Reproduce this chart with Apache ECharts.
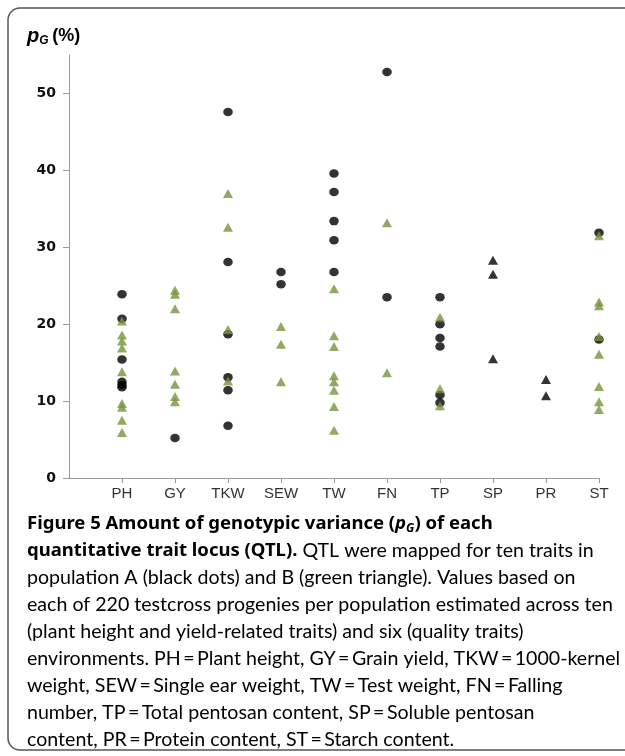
<!DOCTYPE html>
<html>
<head>
<meta charset="utf-8">
<script src="https://cdn.jsdelivr.net/npm/echarts@6/dist/echarts.min.js"></script>
<style>
  html, body { margin: 0; padding: 0; background: #ffffff; }
  #chart { width: 625px; height: 756px; }
</style>
</head>
<body>
<div id="chart"></div>
<script>
// Traits along the x axis
const categories = ['PH', 'GY', 'TKW', 'SEW', 'TW', 'FN', 'TP', 'SP', 'PR', 'ST'];

// Population A QTL (black dots), pG in %
const popA = [
  ['PH', 23.9], ['PH', 20.7], ['PH', 15.4], ['PH', 12.5], ['PH', 12.1], ['PH', 11.8],
  ['GY', 5.2],
  ['TKW', 47.6], ['TKW', 28.1], ['TKW', 18.7], ['TKW', 13.1], ['TKW', 11.4], ['TKW', 6.8],
  ['SEW', 26.8], ['SEW', 25.2],
  ['TW', 39.6], ['TW', 37.2], ['TW', 33.4], ['TW', 30.9], ['TW', 26.8],
  ['FN', 52.8], ['FN', 23.5],
  ['TP', 23.5], ['TP', 20.0], ['TP', 18.2], ['TP', 17.1], ['TP', 10.8], ['TP', 9.8],
  ['ST', 31.9], ['ST', 18.0]
];

// Population B QTL (green triangles), pG in %
const popB = [
  ['PH', 20.4], ['PH', 18.6], ['PH', 17.8], ['PH', 16.9], ['PH', 13.8], ['PH', 9.7], ['PH', 9.2], ['PH', 7.5], ['PH', 5.9],
  ['GY', 24.4], ['GY', 23.9], ['GY', 22.0], ['GY', 13.9], ['GY', 12.2], ['GY', 10.6], ['GY', 9.9],
  ['TKW', 37.0], ['TKW', 32.6], ['TKW', 19.3], ['TKW', 12.6],
  ['SEW', 19.7], ['SEW', 17.4], ['SEW', 12.5],
  ['TW', 24.6], ['TW', 18.5], ['TW', 17.1], ['TW', 13.3], ['TW', 12.5], ['TW', 11.4], ['TW', 9.3], ['TW', 6.2],
  ['FN', 33.2], ['FN', 13.7],
  ['TP', 20.9], ['TP', 11.6], ['TP', 9.4],
  ['ST', 31.5], ['ST', 22.9], ['ST', 22.4], ['ST', 18.4], ['ST', 16.1], ['ST', 11.9], ['ST', 9.9], ['ST', 8.9]
];

// QTL drawn as black triangles (SP, PR)
const blackTriangles = [
  ['SP', 28.3], ['SP', 26.5], ['SP', 15.5],
  ['PR', 12.8], ['PR', 10.7]
];

// Y axis tick values
const yTicks = [0, 10, 20, 30, 40, 50];

// Caption lines
const captionLines = [
  '{b|Figure 5 Amount of genotypic variance (}{bi|p}{bsub|G}{b|) of each}',
  '{b|quantitative trait locus (QTL).}{n| QTL were mapped for ten traits in}',
  '{n|population A (black dots) and B (green triangle). Values based on}',
  '{n|each of 220 testcross progenies per population estimated across ten}',
  '{n|(plant height and yield-related traits) and six (quality traits)}',
  '{n|environments. PH\u2009=\u2009Plant height, GY\u2009=\u2009Grain yield, TKW\u2009=\u20091000-kernel}',
  '{n|weight, SEW\u2009=\u2009Single ear weight, TW\u2009=\u2009Test weight, FN\u2009=\u2009Falling}',
  '{n|number, TP\u2009=\u2009Total pentosan content, SP\u2009=\u2009Soluble pentosan}',
  '{n|content, PR\u2009=\u2009Protein content, ST\u2009=\u2009Starch content.}'
];

const captionRich = {
  b: { fontFamily: 'Noto Sans', fontWeight: 'bold', fontSize: 18.5, color: '#222' },
  bi: { fontFamily: 'Noto Sans', fontWeight: 'bold', fontStyle: 'italic', fontSize: 18.5, color: '#222' },
  bsub: { fontFamily: 'Noto Sans', fontWeight: 'bold', fontStyle: 'italic', fontSize: 12, color: '#222', padding: [10, 0, 0, 0] },
  n: { fontFamily: 'Lato', fontSize: 19.6, color: '#3c3c3c' }
};

const chart = echarts.init(document.getElementById('chart'), null, { renderer: 'canvas' });

const graphics = [
  {
    type: 'rect',
    shape: { x: 8, y: 8, width: 660, height: 742, r: 12 },
    style: { fill: 'none', stroke: '#555', lineWidth: 1.5 },
    z: -1
  },
  {
    type: 'text',
    left: 27,
    top: 26,
    style: {
      text: '{p|p}{s|G}{t|\u2009(%)}',
      rich: {
        p: { fontFamily: 'Liberation Sans', fontWeight: 'bold', fontStyle: 'italic', fontSize: 20, color: '#111' },
        s: { fontFamily: 'Liberation Sans', fontWeight: 'bold', fontStyle: 'italic', fontSize: 12, color: '#111', padding: [9, 0, 0, 0] },
        t: { fontFamily: 'Liberation Sans', fontWeight: 'bold', fontSize: 18, color: '#111' }
      }
    }
  }
];

captionLines.forEach(function (line, i) {
  graphics.push({
    type: 'text',
    left: 27,
    top: 514 + i * 26.9,
    style: { text: line, rich: captionRich }
  });
});

chart.setOption({
  animation: false,
  backgroundColor: '#ffffff',
  grid: { left: 69, right: 26, top: 55, bottom: 278, containLabel: false },
  xAxis: {
    type: 'category',
    boundaryGap: false,
    data: [''].concat(categories),
    axisLine: { lineStyle: { color: '#9a9a9a', width: 1 } },
    axisTick: {
      alignWithLabel: true,
      length: 5,
      interval: function (i) { return i > 0; },
      lineStyle: { color: '#9a9a9a' }
    },
    axisLabel: {
      margin: 8,
      interval: 0,
      fontFamily: 'Liberation Sans',
      fontSize: 15,
      color: '#333'
    },
    splitLine: { show: false }
  },
  yAxis: {
    type: 'value',
    min: 0,
    max: 55,
    axisLine: { show: true, lineStyle: { color: '#9a9a9a', width: 1 } },
    axisTick: { show: true, length: 6, customValues: yTicks, lineStyle: { color: '#9a9a9a' } },
    axisLabel: {
      customValues: yTicks,
      margin: 13,
      fontFamily: 'DejaVu Sans',
      fontWeight: 'bold',
      fontSize: 14,
      color: '#111'
    },
    splitLine: { show: false }
  },
  series: [
    {
      name: 'Population A',
      type: 'scatter',
      data: popA,
      symbol: 'circle',
      symbolSize: [9.5, 8.5],
      itemStyle: { color: '#000' },
      z: 2
    },
    {
      name: 'Population B',
      type: 'scatter',
      data: popB,
      symbol: 'triangle',
      symbolSize: [10, 9],
      itemStyle: { color: '#77933c' },
      z: 3
    },
    {
      name: 'Black triangles',
      type: 'scatter',
      data: blackTriangles,
      symbol: 'triangle',
      symbolSize: [10, 9],
      itemStyle: { color: '#000' },
      z: 3
    }
  ],
  graphic: graphics
});
</script>
</body>
</html>
